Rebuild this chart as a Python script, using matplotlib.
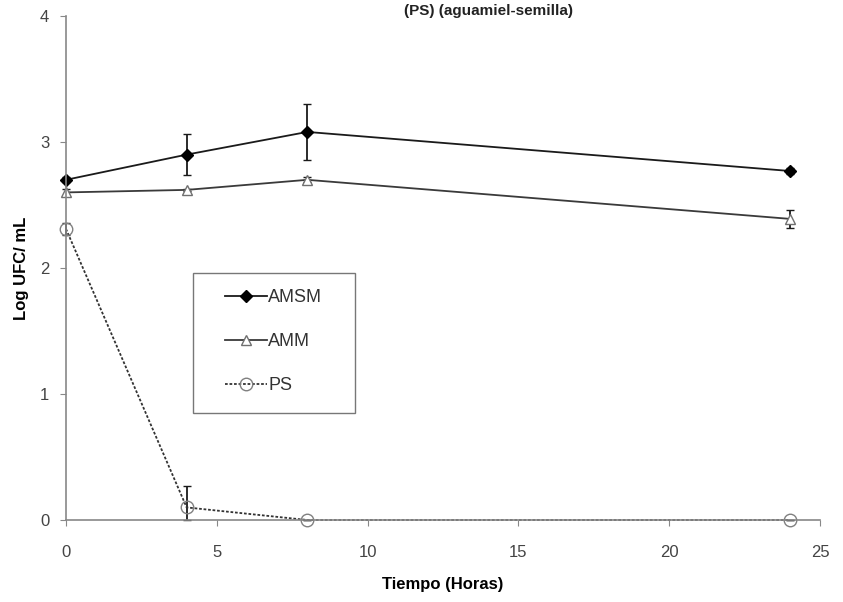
import matplotlib
matplotlib.use("Agg")
from matplotlib import pyplot as plt
from matplotlib.lines import Line2D
from matplotlib.patches import Rectangle

plt.rcParams['font.family'] = ['Liberation Sans', 'DejaVu Sans']

# sampling times (hours)
tiempo = [0, 4, 8, 24]

# log UFC/mL per treatment, with standard deviations (lower, upper)
amsm = [2.70, 2.90, 3.08, 2.77]
amsm_err = [0.02, 0.16, 0.22, 0.02]
amm = [2.60, 2.62, 2.70, 2.39]
amm_err = [0.03, 0.01, 0.02, 0.07]
ps = [2.31, 0.10, 0.0, 0.0]
ps_err_lo = [0.05, 0.10, 0.0, 0.0]
ps_err_hi = [0.05, 0.17, 0.0, 0.0]

x_ticks = [0, 5, 10, 15, 20, 25]
y_ticks = [0, 1, 2, 3, 4]

fig = plt.figure(figsize=(8.43, 6.02), dpi=100)
ax = fig.add_axes([0.0783, 0.1362, 0.8944, 0.8372])

styles = {
    'AMSM': dict(color='#1a1a1a', ls='-', marker='D', ms=6, mfc='black',
                 mec='black'),
    'AMM': dict(color='#3a3a3a', ls='-', marker='^', ms=7, mfc='white',
                mec='#707070'),
    'PS': dict(color='#333333', ls=(0, (1.5, 1)), marker='o', ms=9,
               mfc='none', mec='#808080'),
}

series = (('AMSM', amsm, amsm_err),
          ('AMM', amm, amm_err),
          ('PS', ps, [ps_err_lo, ps_err_hi]))
for name, y, err in series:
    cont = ax.errorbar(tiempo, y, yerr=err, lw=1.3, capsize=3,
                       elinewidth=1.3, ecolor='#1a1a1a', **styles[name])
    for art in cont.get_children():
        art.set_clip_on(False)

ax.set_xlim(0, 25)
ax.set_ylim(0, 4)
ax.set_xticks(x_ticks)
ax.set_yticks(y_ticks)
ax.tick_params(direction='out', length=4, color='#888888', labelsize=12,
               labelcolor='#444444', pad=8)
ax.tick_params(axis='x', pad=14)
for side in ('top', 'right'):
    ax.spines[side].set_visible(False)
for side in ('left', 'bottom'):
    ax.spines[side].set_color('#888888')
    ax.spines[side].set_linewidth(1.2)

ax.set_xlabel('Tiempo (Horas)', fontsize=12, fontweight='bold', labelpad=12)
ax.set_ylabel('Log UFC/ mL', fontsize=12, fontweight='bold', labelpad=8)

# legend box drawn separately so the entries sit with a wide left margin
ax.add_patch(Rectangle((0.168, 0.212), 0.215, 0.278, transform=ax.transAxes,
                       fill=False, ec='#777777', lw=1.0, zorder=5))
handles = [Line2D([], [], lw=1.3, **styles[n]) for n in ('AMSM', 'AMM', 'PS')]
leg = ax.legend(handles, ['AMSM', 'AMM', 'PS'], loc='upper left',
                bbox_to_anchor=(0.211, 0.458), fontsize=13, frameon=False,
                handlelength=2.3, labelspacing=1.5, borderpad=0,
                borderaxespad=0, handletextpad=0.1)
for txt in leg.get_texts():
    txt.set_color('#333333')

fig.text(0.58, 0.982, '(PS) (aguamiel-semilla)', ha='center', va='center',
         fontsize=11, fontweight='bold', color='#222222')

fig.savefig('out.png', dpi=100)
